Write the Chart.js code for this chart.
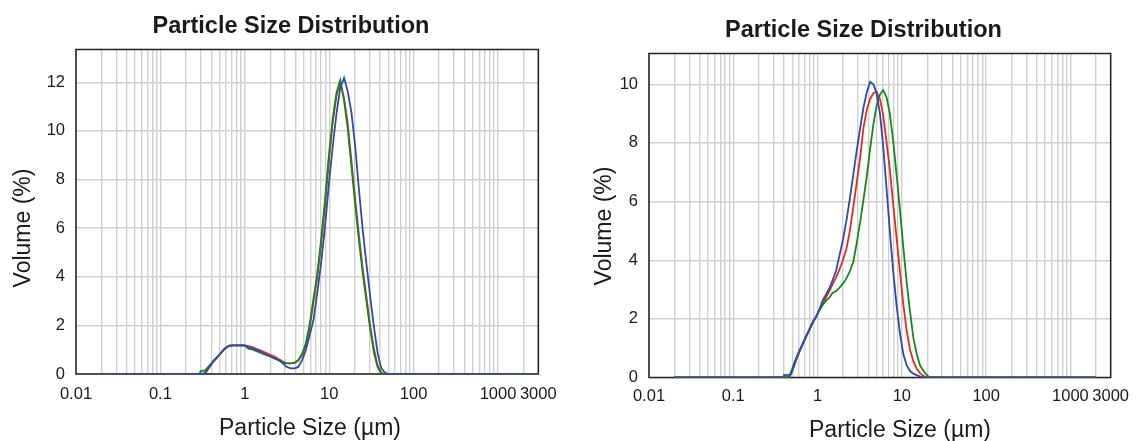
<!DOCTYPE html>
<html>
<head>
<meta charset="utf-8">
<script src="https://cdn.jsdelivr.net/npm/chart.js@4.4.1/dist/chart.umd.min.js"></script>
<style>
  body { margin: 0; background: #fff; }
  .wrap { position: absolute; top: 0; width: 569px; height: 441px; }
</style>
</head>
<body>
<div class="wrap" style="left:0"><canvas id="psd-left" width="569" height="441"></canvas></div>
<div class="wrap" style="left:569px"><canvas id="psd-right" width="569" height="441"></canvas></div>
<script>
// axis ticks
const xTickLabels = [0.01, 0.1, 1, 10, 100, 1000, 3000];
const yTicksLeft = [0, 2, 4, 6, 8, 10, 12];
const yTicksRight = [0, 2, 4, 6, 8, 10];

// left chart: particle size (µm) and volume (%)
const sizesLeft = [0.02, 0.29, 0.3, 0.34, 0.38, 0.42, 0.47, 0.52, 0.58, 0.65, 0.72, 0.8, 0.9, 1.0, 1.1, 1.25, 1.4, 1.6, 1.8, 2.0, 2.25, 2.5, 2.8, 3.1, 3.5, 3.9, 4.3, 4.8, 5.3, 5.9, 6.5, 7.2, 8.0, 8.9, 9.9, 11, 12.2, 13.5, 15, 16.5, 18.3, 20.3, 22.5, 25, 27.5, 30.5, 34, 37.5, 41.5, 46, 51, 2000];
const redLeft = [0, 0, 0, 0.05, 0.3, 0.5, 0.68, 0.86, 1.04, 1.16, 1.18, 1.18, 1.18, 1.18, 1.15, 1.1, 1.02, 0.94, 0.86, 0.79, 0.72, 0.62, 0.52, 0.45, 0.44, 0.46, 0.55, 0.8, 1.2, 1.95, 2.95, 3.95, 5.3, 6.9, 8.75, 10.35, 11.45, 12.02, 11.35, 10.35, 8.8, 7.2, 5.7, 4.3, 3.2, 2.0, 1.0, 0.35, 0.04, 0, 0, 0];
const greenLeft = [0, 0, 0.12, 0.15, 0.35, 0.52, 0.7, 0.87, 1.05, 1.15, 1.18, 1.18, 1.18, 1.17, 1.04, 1.0, 0.93, 0.85, 0.78, 0.72, 0.63, 0.57, 0.47, 0.44, 0.44, 0.47, 0.57, 0.85, 1.28, 2.09, 3.08, 4.1, 5.49, 7.15, 8.97, 10.52, 11.57, 12.08, 11.25, 10.16, 8.58, 6.98, 5.5, 4.12, 3.04, 1.89, 0.85, 0.27, 0.03, 0, 0, 0];
const blueLeft = [0, 0, 0, 0.03, 0.28, 0.5, 0.68, 0.86, 1.05, 1.17, 1.18, 1.18, 1.18, 1.18, 1.1, 1.04, 0.98, 0.88, 0.79, 0.73, 0.66, 0.58, 0.45, 0.3, 0.23, 0.23, 0.29, 0.59, 1.0, 1.63, 2.21, 3.31, 4.54, 6.04, 7.8, 9.36, 10.72, 11.77, 12.18, 11.66, 10.78, 9.38, 7.58, 5.9, 4.57, 3.22, 1.9, 0.85, 0.22, 0.05, 0, 0];

// right chart
const sizesRight = [0.02, 0.39, 0.4, 0.46, 0.47, 0.5, 0.55, 0.6, 0.66, 0.72, 0.8, 0.88, 0.96, 1.05, 1.15, 1.26, 1.38, 1.5, 1.65, 1.8, 2.0, 2.2, 2.4, 2.65, 2.9, 3.2, 3.5, 3.85, 4.2, 4.6, 5.0, 5.5, 6.0, 6.6, 7.2, 7.9, 8.7, 9.5, 10.4, 11.4, 12.5, 13.7, 15, 16.5, 18, 19.8, 21.5, 2000];
const redRight = [0, 0, 0, 0.02, 0.05, 0.2, 0.55, 0.83, 1.1, 1.35, 1.62, 1.88, 2.08, 2.3, 2.53, 2.73, 2.95, 3.17, 3.4, 3.65, 4.0, 4.4, 4.95, 5.8, 6.6, 7.5, 8.5, 9.15, 9.5, 9.7, 9.75, 9.5, 8.95, 8.0, 7.1, 5.9, 4.7, 3.6, 2.5, 1.6, 0.95, 0.55, 0.3, 0.14, 0.06, 0, 0, 0];
const greenRight = [0, 0, 0, 0.02, 0.05, 0.22, 0.58, 0.85, 1.12, 1.37, 1.63, 1.88, 2.06, 2.28, 2.47, 2.62, 2.72, 2.88, 2.94, 3.05, 3.2, 3.38, 3.6, 3.95, 4.55, 5.3, 6.05, 6.9, 7.8, 8.65, 9.25, 9.65, 9.8, 9.55, 9.0, 8.05, 6.85, 5.7, 4.45, 3.25, 2.25, 1.35, 0.8, 0.4, 0.23, 0.08, 0, 0];
const blueRight = [0, 0, 0.08, 0.09, 0.1, 0.3, 0.62, 0.88, 1.13, 1.37, 1.65, 1.9, 2.07, 2.32, 2.63, 2.83, 3.05, 3.3, 3.62, 4.1, 4.69, 5.35, 6.05, 6.9, 7.7, 8.5, 9.2, 9.75, 10.08, 10.0, 9.7, 9.0, 7.9, 6.4, 5.0, 3.6, 2.4, 1.5, 0.8, 0.42, 0.22, 0.13, 0.08, 0.03, 0, 0, 0, 0];

const FONT = '"Liberation Sans", Arial, Helvetica, sans-serif';
const TEXT_COLOR = '#1a1a1a';

// grid lines at 1..9 x every decade, labels only on the listed ticks
function logGridValues() {
  const values = [...xTickLabels];
  for (let e = -2; e <= 3; e++) {
    for (let m = 2; m <= 9; m++) {
      const v = Number((m * Math.pow(10, e)).toPrecision(3));
      if (v < 3000) values.push(v);
    }
  }
  return values.sort((a, b) => a - b);
}

function points(sizes, values) {
  return sizes.map((s, i) => ({ x: s, y: values[i] }));
}

// frame around the plot + titles
const frameAndTitles = {
  id: "frameAndTitles",
  beforeDatasetsDraw(chart) {
    const { ctx, chartArea: a } = chart;
    ctx.save();
    ctx.strokeStyle = "#222";
    ctx.lineWidth = 1.5;
    ctx.strokeRect(a.left, a.top, a.right - a.left, a.bottom - a.top);
    ctx.restore();
  },
  afterDraw(chart, args, opts) {
    const ctx = chart.ctx;
    ctx.save();
    ctx.fillStyle = TEXT_COLOR;
    ctx.textAlign = "center";
    ctx.textBaseline = "alphabetic";
    ctx.font = "bold 23.5px " + FONT;
    ctx.fillText(opts.title, opts.titleX, opts.titleY);
    ctx.font = "23px " + FONT;
    ctx.fillText(opts.xTitle, opts.xTitleX, opts.xTitleY);
    ctx.translate(opts.yTitleX, opts.yTitleY);
    ctx.rotate(-Math.PI / 2);
    ctx.fillText(opts.yTitle, 0, 0);
    ctx.restore();
  },
};

function renderPsdChart(canvasId, cfg) {
  const gridValues = logGridValues();
  const line = (label, color, values) => ({
    label: label,
    data: points(cfg.sizes, values),
    borderColor: color,
    borderWidth: 1.8,
    pointRadius: 0,
    tension: 0,
    fill: false,
  });

  return new Chart(document.getElementById(canvasId), {
    type: "line",
    data: {
      // first dataset is drawn on top
      datasets: [
        line("Blue", "#2f49ad", cfg.blue),
        line("Green", "#13891a", cfg.green),
        line("Red", "#e8291c", cfg.red),
      ],
    },
    plugins: [frameAndTitles],
    options: {
      responsive: false,
      animation: false,
      devicePixelRatio: 1,
      events: [],
      layout: {
        padding: { left: 0, top: cfg.area.top, right: 569 - cfg.area.right, bottom: 0 },
      },
      plugins: {
        legend: { display: false },
        tooltip: { enabled: false },
        frameAndTitles: cfg.labels,
      },
      scales: {
        x: {
          type: "logarithmic",
          min: 0.01,
          max: 3000,
          afterBuildTicks: (scale) => {
            scale.ticks = gridValues.map((v) => ({ value: v }));
          },
          afterFit: (scale) => {
            scale.height = 441 - cfg.area.bottom;
          },
          grid: { color: "#d0d0d0", lineWidth: 1.4, drawTicks: false },
          border: { display: false },
          ticks: {
            autoSkip: false,
            maxRotation: 0,
            padding: cfg.xTickPadding,
            color: TEXT_COLOR,
            font: { family: FONT, size: 16.5 },
            callback: (value) => (xTickLabels.includes(value) ? String(value) : ""),
          },
        },
        y: {
          min: 0,
          max: cfg.yMax,
          afterBuildTicks: (scale) => {
            scale.ticks = cfg.yTicks.map((v) => ({ value: v }));
          },
          afterFit: (scale) => {
            scale.width = cfg.area.left;
          },
          grid: { color: "#d0d0d0", lineWidth: 1.4, drawTicks: false },
          border: { display: false },
          ticks: {
            padding: 11,
            color: TEXT_COLOR,
            font: { family: FONT, size: 16.5 },
          },
        },
      },
    },
  });
}

renderPsdChart("psd-left", {
  sizes: sizesLeft,
  red: redLeft,
  green: greenLeft,
  blue: blueLeft,
  yMax: 13.35,
  yTicks: yTicksLeft,
  area: { left: 76, top: 49.5, right: 538.3, bottom: 374 },
  xTickPadding: 10.5,
  labels: {
    title: "Particle Size Distribution", titleX: 291, titleY: 32.5,
    xTitle: "Particle Size (µm)", xTitleX: 310, xTitleY: 435,
    yTitle: "Volume (%)", yTitleX: 29.5, yTitleY: 228,
  },
});

renderPsdChart("psd-right", {
  sizes: sizesRight,
  red: redRight,
  green: greenRight,
  blue: blueRight,
  yMax: 11.05,
  yTicks: yTicksRight,
  area: { left: 80, top: 53.5, right: 542.7, bottom: 377.5 },
  xTickPadding: 9,
  labels: {
    title: "Particle Size Distribution", titleX: 294.5, titleY: 36.5,
    xTitle: "Particle Size (µm)", xTitleX: 331, xTitleY: 437,
    yTitle: "Volume (%)", yTitleX: 41.5, yTitleY: 226,
  },
});
</script>
</body>
</html>
